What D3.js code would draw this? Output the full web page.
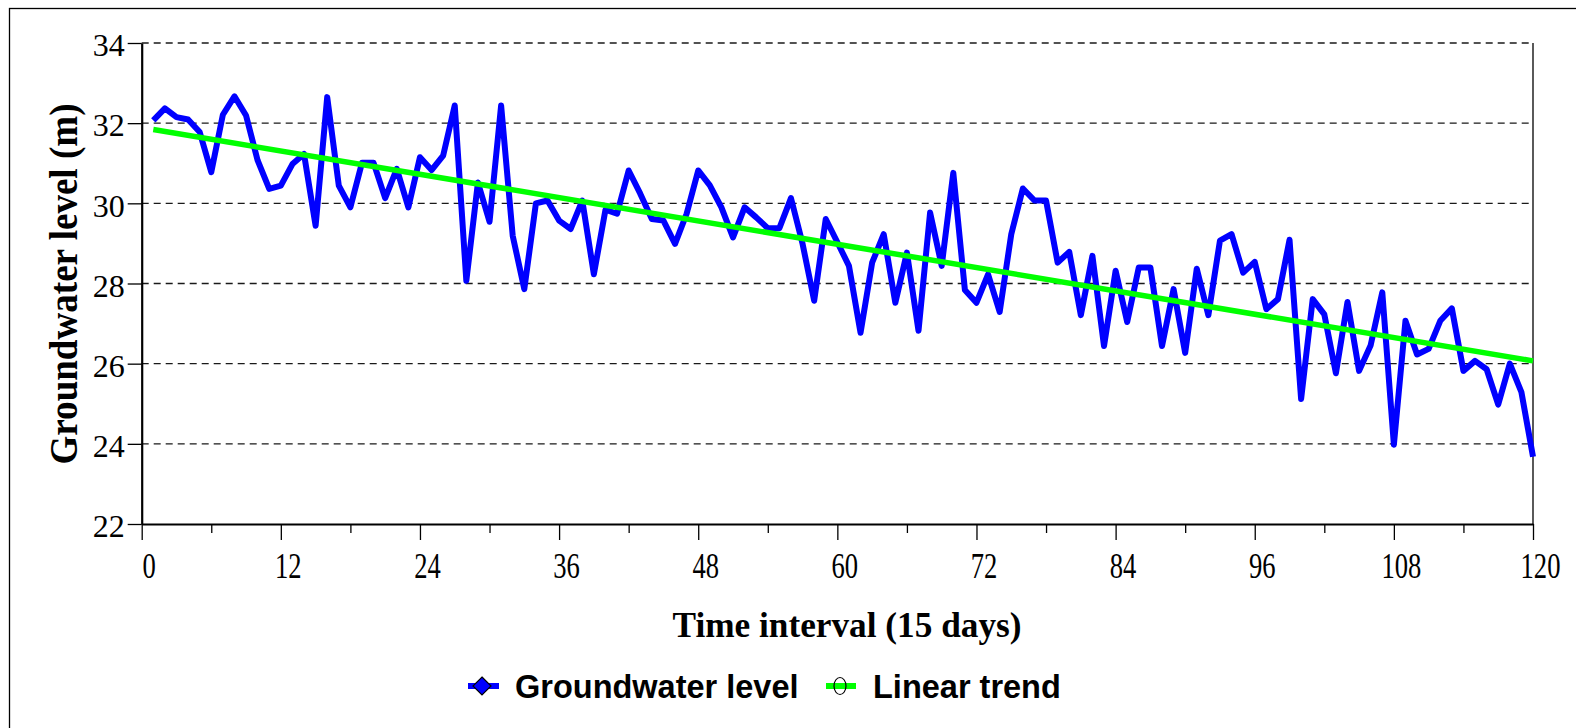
<!DOCTYPE html>
<html>
<head>
<meta charset="utf-8">
<script src="https://cdn.jsdelivr.net/npm/d3@7/dist/d3.min.js"></script>
<style>
html, body { margin: 0; padding: 0; background: #fff; overflow: hidden; }
</style>
</head>
<body>
<svg id="chart" width="1576" height="728"></svg>
<script>
// groundwater level (m), one value per 15-day interval, intervals 1..120
var groundwater = [
    32.07, 32.37, 32.15, 32.09, 31.78, 30.78, 32.21, 32.67, 32.19, 31.07,
    30.36, 30.44, 30.98, 31.23, 29.44, 32.65, 30.44, 29.90, 31.01, 31.01,
    30.13, 30.86, 29.90, 31.15, 30.83, 31.19, 32.44, 28.07, 30.52, 29.54,
    32.44, 29.19, 27.86, 30.00, 30.07, 29.57, 29.36, 30.07, 28.23, 29.84,
    29.74, 30.82, 30.24, 29.61, 29.57, 28.99, 29.74, 30.82, 30.45, 29.90,
    29.15, 29.90, 29.65, 29.38, 29.38, 30.13, 28.99, 27.57, 29.61, 29.03,
    28.44, 26.77, 28.52, 29.23, 27.52, 28.77, 26.82, 29.77, 28.44, 30.76,
    27.84, 27.52, 28.23, 27.29, 29.23, 30.37, 30.07, 30.07, 28.52, 28.79,
    27.21, 28.69, 26.44, 28.32, 27.04, 28.40, 28.40, 26.44, 27.86, 26.27,
    28.37, 27.21, 29.07, 29.23, 28.27, 28.54, 27.36, 27.61, 29.09, 25.12,
    27.61, 27.23, 25.76, 27.54, 25.82, 26.46, 27.78, 23.98, 27.07, 26.23,
    26.37, 27.07, 27.38, 25.82, 26.07, 25.86, 24.98, 26.00, 25.29, 23.68
];

// linear trend, read at its two ends (interval 1 and 120)
var trendPoints = [[1, 31.84], [120, 26.07]];

var xTicks = [0, 12, 24, 36, 48, 60, 72, 84, 96, 108, 120];
var xMinorTicks = [6, 18, 30, 42, 54, 66, 78, 90, 102, 114];
var yTicks = [22, 24, 26, 28, 30, 32, 34];

var seriesNames = ["Groundwater level", "Linear trend"];
var xTitle = "Time interval (15 days)";
var yTitle = "Groundwater level (m)";

var svg = d3.select("#chart");

var x = d3.scaleLinear().domain([0, 120]).range([141.7, 1533]);
var y = d3.scaleLinear().domain([22, 34]).range([524, 43]);

// outer frame (only top and left edges fall inside the picture)
svg.append("rect")
    .attr("x", 9.5)
    .attr("y", 8.5)
    .attr("width", 1700)
    .attr("height", 1000)
    .attr("fill", "none")
    .attr("stroke", "#000")
    .attr("stroke-width", 1.3);

// dashed grid
svg.append("g")
    .selectAll("line")
    .data(yTicks.filter(function (d) { return d > 22; }))
    .join("line")
    .attr("x1", x(0))
    .attr("x2", x(120))
    .attr("y1", function (d) { return y(d); })
    .attr("y2", function (d) { return y(d); })
    .attr("stroke", "#1a1a1a")
    .attr("stroke-width", 1.3)
    .attr("stroke-dasharray", "7,5");

// right border
svg.append("line")
    .attr("x1", x(120))
    .attr("x2", x(120))
    .attr("y1", y(34))
    .attr("y2", y(22))
    .attr("stroke", "#000")
    .attr("stroke-width", 1.3);

// y axis
var yAxis = svg.append("g")
    .attr("transform", "translate(" + x(0) + ",0)")
    .call(d3.axisLeft(y).tickValues(yTicks).tickSize(14).tickSizeOuter(0).tickPadding(3));

yAxis.select(".domain").attr("stroke-width", 2.2);
yAxis.selectAll(".tick line").attr("stroke-width", 1.3);
yAxis.selectAll("text")
    .attr("font-family", "'Liberation Serif', 'Times New Roman', serif")
    .attr("font-size", 32)
    .attr("fill", "#000")
    .attr("dy", "0.4em");

// x axis, minor ticks first
svg.append("g")
    .attr("transform", "translate(0," + y(22) + ")")
    .call(d3.axisBottom(x).tickValues(xMinorTicks).tickSize(9).tickSizeOuter(0).tickFormat(""))
    .call(function (g) { g.select(".domain").remove(); })
    .selectAll(".tick line").attr("stroke-width", 1.3);

var xAxis = svg.append("g")
    .attr("transform", "translate(0," + y(22) + ")")
    .call(d3.axisBottom(x).tickValues(xTicks).tickSize(16).tickSizeOuter(0).tickPadding(13));

xAxis.select(".domain").attr("stroke-width", 2.2);
xAxis.selectAll(".tick line").attr("stroke-width", 1.3);
xAxis.selectAll("text")
    .attr("font-family", "'Liberation Serif', 'Times New Roman', serif")
    .attr("font-size", 35)
    .attr("fill", "#000")
    .attr("dx", 7)
    .attr("textLength", function (d) { return String(d).length * 13.3; })
    .attr("lengthAdjust", "spacingAndGlyphs");

// series
var line = d3.line()
    .x(function (d, i) { return x(i + 1); })
    .y(function (d) { return y(d); });

svg.append("path")
    .datum(groundwater)
    .attr("d", line)
    .attr("fill", "none")
    .attr("stroke", "#0000ff")
    .attr("stroke-width", 6)
    .attr("stroke-linejoin", "round");

svg.append("path")
    .datum(trendPoints)
    .attr("d", d3.line()
        .x(function (d) { return x(d[0]); })
        .y(function (d) { return y(d[1]); }))
    .attr("fill", "none")
    .attr("stroke", "#00ff00")
    .attr("stroke-width", 5.5);

// axis titles
svg.append("text")
    .attr("transform", "translate(77,284) rotate(-90)")
    .attr("text-anchor", "middle")
    .attr("font-family", "'Liberation Serif', 'Times New Roman', serif")
    .attr("font-weight", "bold")
    .attr("font-size", 40)
    .attr("textLength", 361)
    .attr("lengthAdjust", "spacingAndGlyphs")
    .text(yTitle);

svg.append("text")
    .attr("x", 847)
    .attr("y", 637)
    .attr("text-anchor", "middle")
    .attr("font-family", "'Liberation Serif', 'Times New Roman', serif")
    .attr("font-weight", "bold")
    .attr("font-size", 36)
    .attr("textLength", 349)
    .attr("lengthAdjust", "spacingAndGlyphs")
    .text(xTitle);

// legend
var legend = svg.append("g").attr("transform", "translate(0,686)");

legend.append("line")
    .attr("x1", 468).attr("x2", 499)
    .attr("stroke", "#0000ff").attr("stroke-width", 6);
legend.append("path")
    .attr("d", "M482,-9L491,0L482,9L473,0Z")
    .attr("fill", "#0000ff")
    .attr("stroke", "#000")
    .attr("stroke-width", 1.2);
legend.append("text")
    .attr("x", 515)
    .attr("y", 12)
    .attr("font-family", "'Liberation Sans', Arial, sans-serif")
    .attr("font-weight", "bold")
    .attr("font-size", 32.5)
    .text(seriesNames[0]);

legend.append("line")
    .attr("x1", 826).attr("x2", 856)
    .attr("stroke", "#00ff00").attr("stroke-width", 6);
legend.append("ellipse")
    .attr("cx", 840)
    .attr("rx", 6)
    .attr("ry", 8.5)
    .attr("fill", "none")
    .attr("stroke", "#000")
    .attr("stroke-width", 1.2);
legend.append("text")
    .attr("x", 873)
    .attr("y", 12)
    .attr("font-family", "'Liberation Sans', Arial, sans-serif")
    .attr("font-weight", "bold")
    .attr("font-size", 32.5)
    .text(seriesNames[1]);
</script>
</body>
</html>
